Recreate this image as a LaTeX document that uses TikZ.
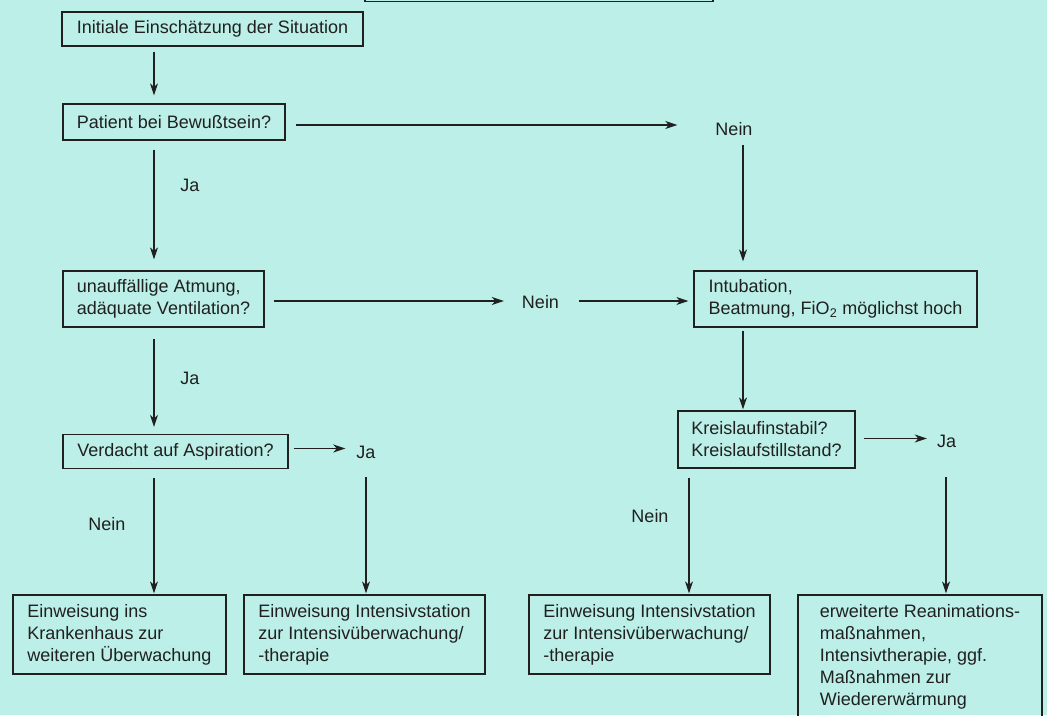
\documentclass[tikz,border=0pt]{standalone}
\usepackage{fontspec}
\setmainfont{Liberation Sans}
\usetikzlibrary{arrows.meta,calc}
\definecolor{bg}{RGB}{187,239,231}
\definecolor{ink}{RGB}{32,32,32}
\begin{document}
\begin{tikzpicture}[x=1pt,y=-1pt,
  font=\fontsize{18}{22}\selectfont,
  box/.style={draw=ink, line width=1.2pt, align=left, inner sep=0pt, text=ink},
  lbl/.style={text=ink, inner sep=0pt},
  arr/.style={draw=ink, line width=1.2pt, -{Stealth[length=12pt,width=8pt,inset=3.5pt]}}]
\fill[bg] (0,0) rectangle (1047,715);
\useasboundingbox (0,0) rectangle (1047,715);
% columns
\coordinate (colA) at (154,0);
\coordinate (colB) at (366,0);
\coordinate (colC) at (689,0);
\coordinate (colD) at (743,0);
\coordinate (colE) at (946,0);
% boxes
\node[box, minimum width=348pt, minimum height=40pt] (b0) at (539,-18.5) {};
\node[box, minimum width=301pt, minimum height=34pt] (b1) at (212.5,29) {Initiale Einschätzung der Situation};
\node[box, minimum width=222pt, minimum height=36pt] (b2) at (174,122) {Patient bei Bewußtsein?};
\node[box, minimum width=201pt, minimum height=56pt] (b3) at (163.5,299) {unauffällige Atmung,\\adäquate Ventilation?};
\node[box, minimum width=283pt, minimum height=56pt] (b4) at (835.5,299) {Intubation,\\Beatmung, FiO\textsubscript{2} möglichst hoch};
\node[box, minimum width=225pt, minimum height=34pt] (b5) at (175.5,451.5) {Verdacht auf Aspiration?};
\node[box, minimum width=177pt, minimum height=57pt] (b6) at (766.5,439.5) {Kreislaufinstabil?\\Kreislaufstillstand?};
\node[box, minimum width=213pt, minimum height=79pt] (b7) at (119.5,634.5) {Einweisung ins\\Krankenhaus zur\\weiteren Überwachung};
\node[box, minimum width=241pt, minimum height=79pt] (b8) at (364.5,634.5) {Einweisung Intensivstation\\zur Intensivüberwachung/\\-therapie};
\node[box, minimum width=241pt, minimum height=79pt] (b9) at (649.5,634.5) {Einweisung Intensivstation\\zur Intensivüberwachung/\\-therapie};
\node[box, minimum width=244pt, minimum height=124pt] (b10) at (920,657) {erweiterte Reanimations-\\maßnahmen,\\Intensivtherapie, ggf.\\Maßnahmen zur\\Wiedererwärmung};
% labels
\node[lbl] (n1) at (734,129) {Nein};
\node[lbl] (j1) at (190,185) {Ja};
\node[lbl] (n2) at (540.5,302) {Nein};
\node[lbl] (j2) at (190,378) {Ja};
\node[lbl] (j3) at (366,452) {Ja};
\node[lbl] (j4) at (946.5,441) {Ja};
\node[lbl] (n3) at (107,524) {Nein};
\node[lbl] (n4) at (650,516) {Nein};
% connectors
\draw[arr] ($(b1.south -| colA)+(0,5)$) -- ($(b2.north -| colA)+(0,-8)$);
\draw[arr] ($(b2.east)+(10,3)$) -- ($(b2.east -| n1.west)+(-38,3)$);
\draw[arr] ($(n1.center -| colD)+(0,16)$) -- ($(b4.north -| colD)+(0,-9)$);
\draw[arr] ($(b2.south -| colA)+(0,9)$) -- ($(b3.north -| colA)+(0,-11)$);
\draw[arr] ($(b3.east)+(9,2)$) -- ($(b3.east -| n2.west)+(-18,2)$);
\draw[arr] ($(n2.east |- b3.east)+(20,2)$) -- ($(b4.west |- b3.east)+(-5,2)$);
\draw[arr] ($(b3.south -| colA)+(0,11)$) -- ($(b5.north -| colA)+(0,-7)$);
\draw[arr] ($(b4.south -| colD)+(0,3)$) -- ($(b6.north -| colD)+(0,-1)$);
\draw[arr] ($(b5.east)+(5,-3)$) -- ($(b5.east -| j3.west)+(-11,-3)$);
\draw[arr] ($(b6.east)+(8,-1)$) -- ($(b6.east -| j4.west)+(-10,-1)$);
\draw[arr] ($(b5.south -| colA)+(0,9)$) -- ($(b7.north -| colA)+(0,-1)$);
\draw[arr] ($(j3.center -| colB)+(0,25)$) -- ($(b8.north -| colB)+(0,-1)$);
\draw[arr] ($(b6.south -| colC)+(0,9)$) -- ($(b9.north -| colC)+(0,-1)$);
\draw[arr] ($(j4.center -| colE)+(0,36)$) -- ($(b10.north -| colE)+(0,-1)$);
\end{tikzpicture}
\end{document}
